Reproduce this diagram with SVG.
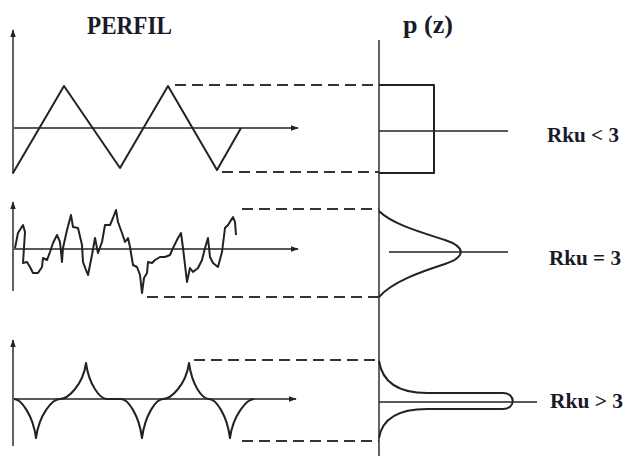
<svg xmlns="http://www.w3.org/2000/svg" width="627" height="456" viewBox="0 0 627 456">
<defs>
<marker id="ah" viewBox="0 0 10 10" refX="9" refY="5" markerWidth="8" markerHeight="8" markerUnits="userSpaceOnUse" orient="auto">
<path d="M0,1.5 L10,5 L0,8.5 Z" fill="#222"/>
</marker>
</defs>
<style>
.axis{stroke:#222;stroke-width:1.4;fill:none}
.prof{stroke:#222;stroke-width:2;fill:none;stroke-linejoin:round}
.dash{stroke:#333;stroke-width:1.8;fill:none;stroke-dasharray:11,6}
.t{font-family:"Liberation Serif","Times New Roman",serif;font-weight:bold;fill:#1a1a2a}
</style>
<rect width="627" height="456" fill="#fff"/>
<text class="t" x="87" y="34" font-size="26" textLength="85" lengthAdjust="spacingAndGlyphs">PERFIL</text>
<text class="t" x="403" y="33" font-size="26" textLength="50" lengthAdjust="spacingAndGlyphs">p (z)</text>
<text class="t" x="547" y="142" font-size="21" textLength="72" lengthAdjust="spacingAndGlyphs">Rku &lt; 3</text>
<text class="t" x="549" y="265" font-size="21" textLength="72" lengthAdjust="spacingAndGlyphs">Rku = 3</text>
<text class="t" x="550" y="408" font-size="21" textLength="73" lengthAdjust="spacingAndGlyphs">Rku &gt; 3</text>
<g id="pz-axis"><line class="axis" x1="379" y1="40" x2="379" y2="456"/></g>
<g id="panel1">
<line class="axis" x1="13" y1="174" x2="13" y2="30" marker-end="url(#ah)"/>
<line class="axis" x1="14" y1="128" x2="298" y2="128" marker-end="url(#ah)"/>
<polyline class="prof" points="13,173 64,86 120,168 168,86 217,170 241,128"/>
<path class="prof" d="M379,85 L434,85 L434,173 L379,173"/>
<line class="axis" x1="379" y1="131" x2="508" y2="131"/>
</g>
<g id="panel2">
<line class="axis" x1="13" y1="291" x2="13" y2="202" marker-end="url(#ah)"/>
<line class="axis" x1="14" y1="249" x2="298" y2="249" marker-end="url(#ah)"/>
<polyline class="prof" stroke-width="1.8" points="15,248 18,233 23,225 25,232 23,263 27,262 30,267 33,273 38,273 42,267 43,258 47,260 50,252 53,243 57,235 60,242 62,262 63,248 67,230 71,215 73,227 78,228 82,245 83,262 86,270 88,275 92,255 95,238 98,253 102,242 105,225 110,225 113,218 116,210 118,222 122,233 125,242 128,238 130,247 133,265 137,267 140,275 142,293 144,278 147,273 148,262 152,263 155,260 160,257 165,257 170,255 173,248 178,238 181,233 183,248 185,265 187,282 190,268 193,272 198,268 202,260 205,248 208,238 210,257 213,263 218,267 222,252 225,228 228,225 233,217 235,222 236,235"/>
<path class="prof" d="M379,211 C392,224 420,232 445,240 C466,247 466,257 445,264 C420,272 392,282 379,297"/>
<line class="axis" x1="389" y1="252" x2="508" y2="252"/>
</g>
<g id="panel3">
<line class="axis" x1="13" y1="446" x2="13" y2="340" marker-end="url(#ah)"/>
<line class="axis" x1="14" y1="399" x2="296" y2="399" marker-end="url(#ah)"/>
<path class="prof" d="M14,399 C21,399 33,415 36,438 C39,415 52,399 60,399 C68,399 83,385 86,363 C89,385 100,399 107,399 L121,399 C128,399 139,415 142,438 C145,415 156,399 163,399 C171,399 186,385 189,363 C192,385 202,399 209,399 C216,399 227,415 230,438 C233,415 247,399 254,399"/>
<path class="prof" d="M379,361 C382,380 396,393 427,393 L503,393 C516,393 516,409 503,409 L427,409 C396,409 382,420 379,438"/>
<line class="axis" x1="379" y1="402" x2="537" y2="402"/>
</g>
<g id="connectors">
<line class="dash" x1="175" y1="85" x2="379" y2="85"/>
<line class="dash" x1="222" y1="172" x2="379" y2="172"/>
<line class="dash" x1="242" y1="209" x2="379" y2="209"/>
<line class="dash" x1="147" y1="297" x2="379" y2="297"/>
<line class="dash" x1="194" y1="360" x2="379" y2="360"/>
<line class="dash" x1="242" y1="441" x2="379" y2="441"/>
</g>
</svg>
